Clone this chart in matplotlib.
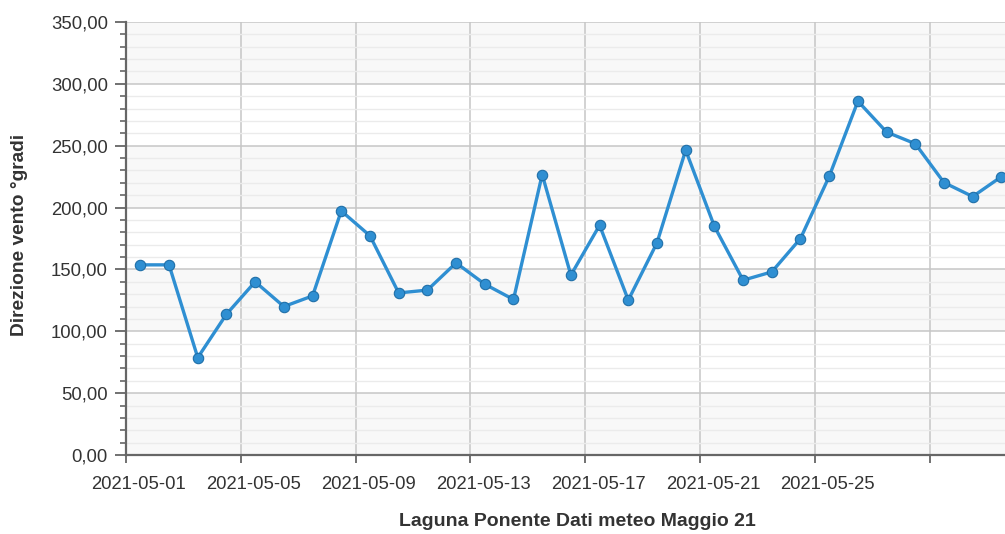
import numpy as np
import pandas as pd
import matplotlib
matplotlib.use("Agg")
from matplotlib import pyplot as plt
import matplotlib.transforms as mtrans
from matplotlib.ticker import FuncFormatter, MultipleLocator

# dati meteo - direzione vento (gradi), valori giornalieri maggio 2021
days = pd.date_range("2021-05-01 12:00", periods=31, freq="D")
direzione = [153.7, 153.7, 78.7, 113.8, 140.0, 120.0, 128.6, 197.3, 177.2, 131.0,
             133.3, 155.3, 138.1, 125.7, 226.7, 145.4, 185.7, 125.2, 171.5, 246.4,
             184.8, 141.3, 148.0, 175.0, 225.2, 286.0, 261.0, 251.6, 220.2, 208.9,
             225.0]
tick_dates = pd.date_range("2021-05-01", "2021-05-29", freq="4D")
tick_labels = ["2021-05-01", "2021-05-05", "2021-05-09", "2021-05-13",
               "2021-05-17", "2021-05-21", "2021-05-25", ""]

plt.rcParams['font.family'] = ['Liberation Sans', 'DejaVu Sans']
txt = "#333333"

fig = plt.figure(figsize=(10.05, 5.34), dpi=100)
ax = fig.add_axes([126 / 1005, 79 / 534, 1 - 126 / 1005, 433 / 534])

ax.set_ylim(0, 350)
ax.set_xlim(pd.Timestamp("2021-05-01"), pd.Timestamp("2021-05-31 15:00"))

# bande alternate
for lo in range(0, 350, 100):
    ax.axhspan(lo, lo + 50, color="#f8f8f8", zorder=0, lw=0)

ax.yaxis.set_major_locator(MultipleLocator(50))
ax.yaxis.set_minor_locator(MultipleLocator(10))
ax.yaxis.set_major_formatter(FuncFormatter(lambda v, p: f"{v:.2f}".replace(".", ",")))
ax.grid(which="major", axis="y", color="#c6c6c6", lw=1.1, zorder=1)
ax.grid(which="minor", axis="y", color="#ebebeb", lw=1.0, zorder=1)
ax.grid(which="major", axis="x", color="#c6c6c6", lw=1.1, zorder=1)

ax.set_xticks(tick_dates)
ax.set_xticklabels(tick_labels)

ax.plot(days, direzione, color="#2f8fd2", lw=2.4, marker="o", ms=7.5,
        mfc="#2f8fd2", mec="#1f6fa8", mew=0.8, zorder=3, clip_on=False)

for s in ["top", "right"]:
    ax.spines[s].set_visible(False)
for s in ["left", "bottom"]:
    ax.spines[s].set_color("#666666")
    ax.spines[s].set_linewidth(1.6)

ax.tick_params(axis="y", which="major", length=8, width=1.3, color="#666666",
               labelsize=13.3, labelcolor=txt, pad=5)
ax.tick_params(axis="y", which="minor", length=4, width=1.2, color="#666666")
ax.tick_params(axis="x", which="major", length=6, width=1.3, color="#666666",
               labelsize=13.3, labelcolor=txt, pad=9)

off = mtrans.ScaledTranslation(13 / 100, 0, fig.dpi_scale_trans)
for lab in ax.get_xticklabels():
    lab.set_transform(lab.get_transform() + off)

ax.set_xlabel("Laguna Ponente Dati meteo Maggio 21", fontsize=14,
              fontweight="bold", color=txt, va="center")
ax.set_ylabel("Direzione vento °gradi", fontsize=13.8, fontweight="bold",
              color=txt, va="center")
ax.xaxis.set_label_coords(577 / 1005, 13 / 534, transform=fig.transFigure)
ax.yaxis.set_label_coords(20 / 1005, 299 / 534, transform=fig.transFigure)

fig.savefig("out.png", dpi=100)
